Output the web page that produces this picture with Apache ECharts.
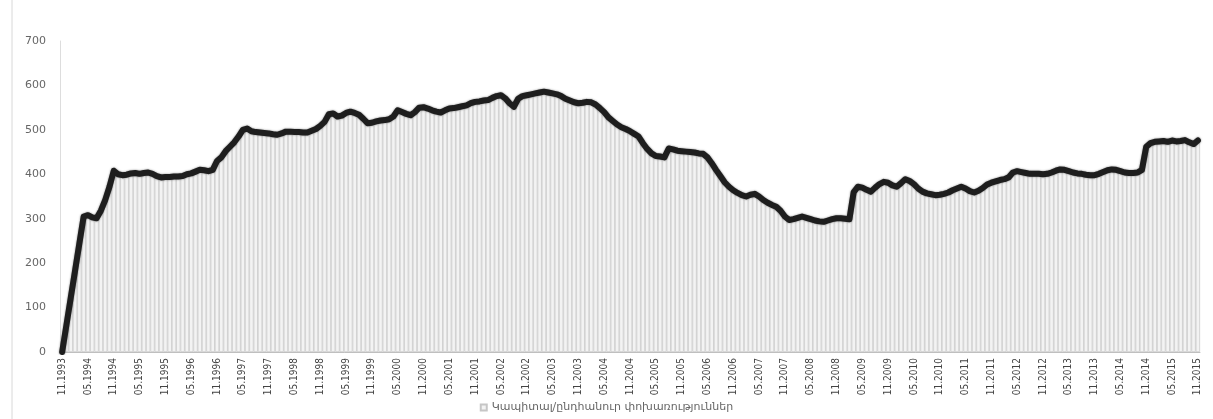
<!DOCTYPE html>
<html><head><meta charset="utf-8">
<script src="https://cdn.jsdelivr.net/npm/echarts@6/dist/echarts.min.js"></script>
<style>html,body{margin:0;padding:0;background:#fff}#c{width:1213px;height:419px}</style>
</head><body><div id="c"></div>
<script>
// Monthly series, 11.1993 .. 11.2015
const startYear = 1993, startMonth = 11, monthCount = 265;
const values = [
0,61,122,183,244,305,308,303,301,318,342,372,408,400,398,399,402,403,401,403,
404,401,396,393,394,394,395,395,396,400,402,406,410,409,407,410,430,438,452,462,
472,485,500,503,497,495,494,493,492,490,489,492,496,496,495,495,494,494,498,502,
509,518,535,537,530,532,538,541,538,534,525,515,516,519,521,522,524,530,544,540,
536,533,540,550,551,548,544,541,539,544,548,549,551,553,555,560,563,564,566,567,
572,576,578,571,560,552,570,576,578,580,582,584,586,584,582,580,576,570,566,562,
560,561,563,562,557,549,540,528,520,512,506,502,497,491,485,470,457,447,441,440,
438,458,456,453,452,451,450,449,447,446,438,425,410,396,382,372,364,358,353,350,
354,356,350,342,336,331,327,318,305,297,299,302,305,302,299,296,294,293,296,299,
301,301,300,299,360,372,370,365,361,370,378,383,381,375,372,380,389,385,378,368,
361,357,355,353,354,356,359,364,368,372,368,362,359,363,369,377,381,384,387,389,
393,404,407,405,403,401,401,401,400,401,404,408,411,410,407,404,402,401,399,398,
398,401,405,409,411,410,407,404,403,403,404,410,462,470,473,474,475,473,476,474,
475,477,472,468,476
];
const yTicks = {min: 0, max: 700, interval: 100};
const legendName = 'Կապիտալ/ընդհանուր փոխառություններ';

const categories = [];
for (let i = 0; i < monthCount; i++) {
  const m0 = startMonth - 1 + i;
  const y = startYear + Math.floor(m0 / 12);
  const m = (m0 % 12) + 1;
  categories.push((m < 10 ? '0' + m : '' + m) + '.' + y);
}

const chart = echarts.init(document.getElementById('c'));
chart.setOption({
  animation: false,
  backgroundColor: '#ffffff',
  grid: {left: 60, right: 13, top: 41, bottom: 67},
  legend: {
    bottom: 1, left: 'center', itemWidth: 6, itemHeight: 6, data: [{name: legendName, icon: 'rect'}],
    textStyle: {fontFamily: 'DejaVu Sans', fontSize: 11, color: '#666'}
  },
  xAxis: {
    type: 'category', data: categories, boundaryGap: true,
    axisLine: {lineStyle: {color: '#bfbfbf', width: 1}},
    axisTick: {alignWithLabel: true, interval: 5, length: 3, lineStyle: {color: '#999'}},
    axisLabel: {interval: 5, rotate: 90, fontFamily: 'DejaVu Sans Condensed', fontSize: 10, color: '#444', margin: 6}
  },
  yAxis: {
    type: 'value', min: yTicks.min, max: yTicks.max, interval: yTicks.interval,
    axisLine: {show: true, lineStyle: {color: '#dddddd'}},
    axisTick: {show: false},
    splitLine: {show: false},
    axisLabel: {fontFamily: 'DejaVu Sans', fontSize: 11, color: '#666', margin: 14}
  },
  graphic: [{type: 'line', shape: {x1: 12, y1: 0, x2: 12, y2: 419}, style: {stroke: '#d8d8d8', lineWidth: 1}}],
  series: [
    {
      name: legendName, type: 'bar', data: values, barCategoryGap: '0%',
      itemStyle: {color: '#f3f3f3', borderColor: '#c6c6c6', borderWidth: 0.7},
      z: 1
    },
    {
      name: 'line', type: 'line', data: values, symbol: 'none', smooth: false,
      lineStyle: {color: '#1e1e1e', width: 6, join: 'round', cap: 'round', shadowBlur: 2, shadowColor: 'rgba(0,0,0,0.5)'},
      z: 3
    }
  ]
});
</script></body></html>
